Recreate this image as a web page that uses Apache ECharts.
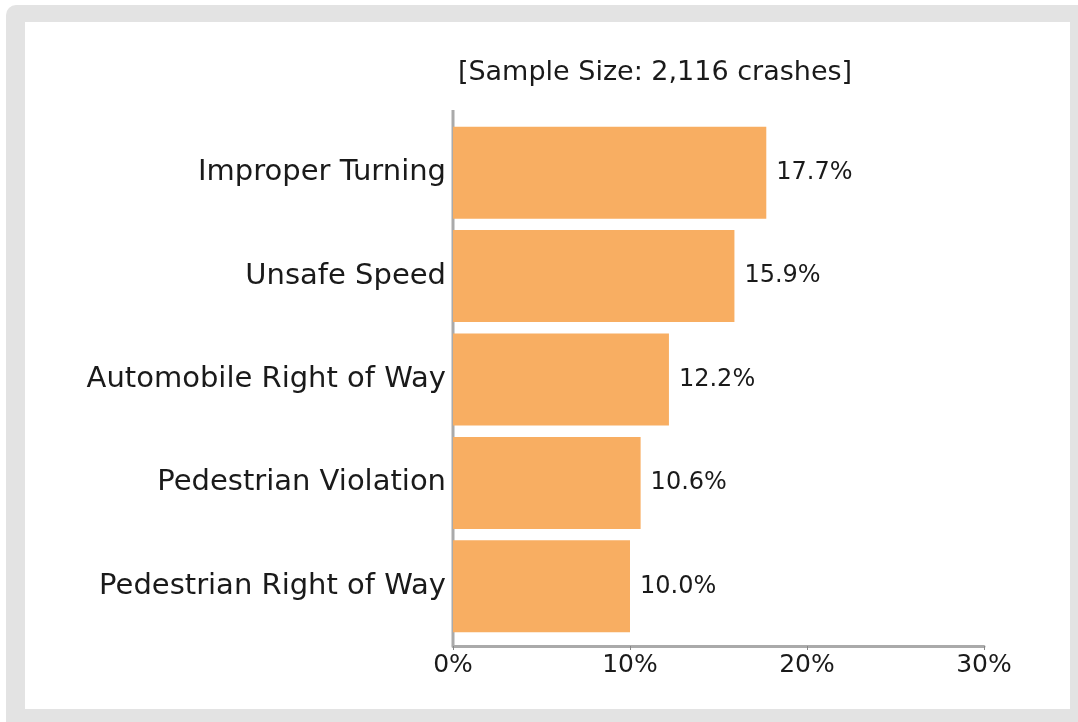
<!DOCTYPE html>
<html>
<head>
<meta charset="utf-8">
<script src="https://cdn.jsdelivr.net/npm/echarts@6/dist/echarts.min.js"></script>
<style>
  html, body { margin: 0; padding: 0; background: #fff; overflow: hidden; width: 1078px; height: 722px; }
  #frame {
    position: absolute; left: 6px; top: 5px; width: 1100px; height: 740px;
    background: #e3e3e3; border-top-left-radius: 10px;
  }
  #main {
    position: absolute; left: 25px; top: 22px; width: 1045px; height: 687px;
    background: #fff;
  }
</style>
</head>
<body>
<div id="frame"></div>
<div id="main"></div>
<script>
// categories from top to bottom
var categories = ['Improper Turning', 'Unsafe Speed', 'Automobile Right of Way', 'Pedestrian Violation', 'Pedestrian Right of Way'];
var values = [17.7, 15.9, 12.2, 10.6, 10.0];
var xTicks = [0, 10, 20, 30];

var FONT = 'DejaVu Sans';
var chart = echarts.init(document.getElementById('main'));

var option = {
  animation: false,
  title: {
    text: '[Sample Size: 2,116 crashes]',
    left: 625, top: 32, textAlign: 'center',
    textStyle: { fontFamily: FONT, fontSize: 27, fontWeight: 'normal', color: '#1a1a1a' }
  },
  grid: { left: 428, right: 86, top: 99, bottom: 71 },
  xAxis: {
    type: 'value',
    min: xTicks[0], max: xTicks[xTicks.length - 1], interval: 10,
    offset: 8,
    axisLine: { show: true, lineStyle: { color: '#aaaaaa', width: 3 } },
    axisTick: { show: true, length: 4, lineStyle: { color: '#888', width: 1 } },
    splitLine: { show: false },
    axisLabel: {
      formatter: '{value}%', fontFamily: FONT, fontSize: 25, color: '#1a1a1a', margin: 7
    }
  },
  yAxis: {
    type: 'category',
    data: categories,
    inverse: true,
    axisLine: { show: false },
    axisTick: { show: false },
    axisLabel: { fontFamily: FONT, fontSize: 29, color: '#1a1a1a', margin: 7 }
  },
  series: [{
    type: 'bar',
    data: values,
    barCategoryGap: '11%',
    itemStyle: { color: '#f8ae62' },
    label: {
      show: true, position: 'right', distance: 10,
      formatter: function (p) { return p.value.toFixed(1) + '%'; },
      fontFamily: FONT, fontSize: 24, color: '#1a1a1a'
    }
  }],
  graphic: [{
    type: 'line',
    shape: { x1: 428, y1: 88, x2: 428, y2: 624 },
    style: { stroke: '#aaaaaa', lineWidth: 3 }
  }]
};
chart.setOption(option);
</script>
</body>
</html>
